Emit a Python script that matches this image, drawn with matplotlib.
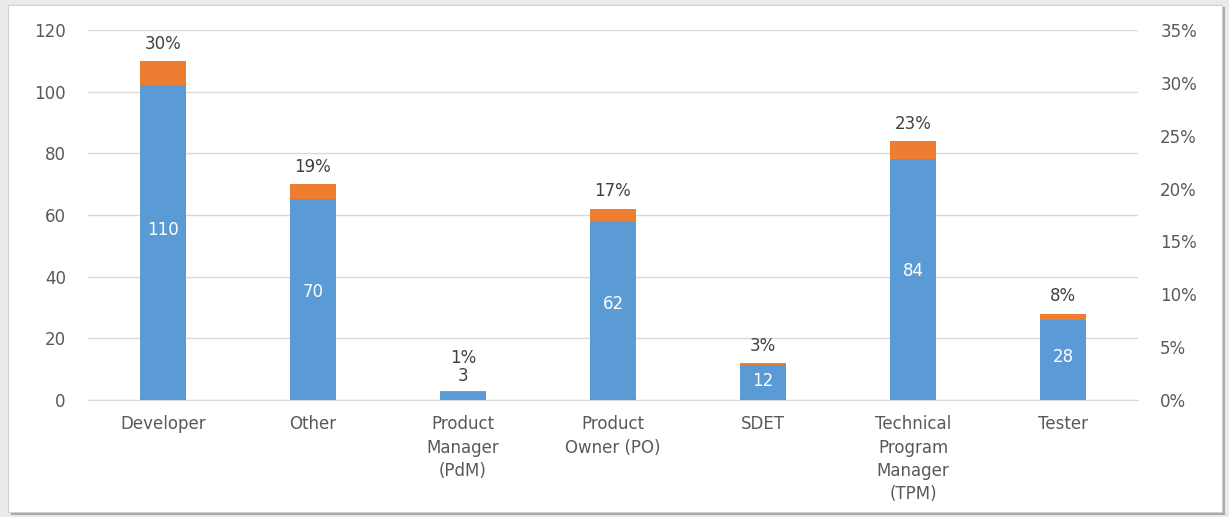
import matplotlib
matplotlib.use("Agg")
import matplotlib.pyplot as plt
from matplotlib.patches import Rectangle
from matplotlib.ticker import FuncFormatter, MultipleLocator

categories = ["Developer", "Other", "Product\nManager\n(PdM)", "Product\nOwner (PO)",
              "SDET", "Technical\nProgram\nManager\n(TPM)", "Tester"]
counts = [110, 70, 3, 62, 12, 84, 28]
percents = [29.8, 19.0, 0.8, 16.8, 3.3, 22.8, 7.6]
percent_labels = ["30%", "19%", "1%", "17%", "3%", "23%", "8%"]

BLUE = "#5B9BD5"
ORANGE = "#ED7D31"
GRID = "#D9D9D9"
TXT = "#595959"
FS = 12

plt.rcParams['font.family'] = ['DejaVu Sans']

W, H = 1229, 517
fig = plt.figure(figsize=(W / 100, H / 100), dpi=100)
fig.patch.set_facecolor("#EAEAEA")

# outer frame with shadow
fig.patches.append(Rectangle((11 / W, 1 - 515 / H), 1214 / W, 508 / H,
                             transform=fig.transFigure, facecolor="#A8A8A8",
                             edgecolor="none", zorder=-2))
fig.patches.append(Rectangle((8 / W, 1 - 512 / H), 1214 / W, 507 / H,
                             transform=fig.transFigure, facecolor="white",
                             edgecolor="#D0D0D0", linewidth=0.8, zorder=-1))

ax = fig.add_axes([88 / W, 1 - 400 / H, 1050 / W, 370 / H])
ax.set_facecolor("none")
ax2 = ax.twinx()

x = list(range(len(categories)))
bw = 0.31
ax.bar(x, counts, width=bw, color=ORANGE, zorder=2)
ax2.bar(x, [p / 100 for p in percents], width=bw, color=BLUE, zorder=3)

ax.set_xlim(-0.5, len(categories) - 0.5)
ax.set_ylim(0, 120)
ax2.set_ylim(0, 0.35)
ax.yaxis.set_major_locator(MultipleLocator(20))
ax2.yaxis.set_major_locator(MultipleLocator(0.05))
ax2.yaxis.set_major_formatter(FuncFormatter(lambda v, p: f"{v * 100:.0f}%"))

ax.grid(axis="y", color=GRID, linewidth=1, zorder=0)
ax.set_axisbelow(True)
for a in (ax, ax2):
    for s in a.spines.values():
        s.set_visible(False)
ax.spines["bottom"].set_visible(True)
ax.spines["bottom"].set_color(GRID)

ax.tick_params(axis="y", length=0, pad=16, labelsize=FS, labelcolor=TXT)
ax2.tick_params(axis="y", length=0, pad=16, labelsize=FS, labelcolor=TXT)
ax.tick_params(axis="x", length=0, pad=11, labelsize=FS, labelcolor=TXT)
ax.set_xticks(x)
ax.set_xticklabels(categories, linespacing=1.38)

for xi, c, pl in zip(x, counts, percent_labels):
    if c >= 10:
        ax2.annotate(str(c), xy=(xi, c / 2 / 120 * 0.35), ha="center", va="center",
                     color="white", fontsize=FS, zorder=5)
        ax2.annotate(pl, xy=(xi, c / 120 * 0.35), xytext=(0, 6), textcoords="offset points",
                     ha="center", va="bottom", color="#404040", fontsize=FS, zorder=5)
    else:
        ax2.annotate(str(c), xy=(xi, c / 120 * 0.35), xytext=(0, 4), textcoords="offset points",
                     ha="center", va="bottom", color="#404040", fontsize=FS, zorder=5)
        ax2.annotate(pl, xy=(xi, c / 120 * 0.35), xytext=(0, 17), textcoords="offset points",
                     ha="center", va="bottom", color="#404040", fontsize=FS, zorder=5)

fig.savefig("out.png", dpi=100, facecolor=fig.get_facecolor())
